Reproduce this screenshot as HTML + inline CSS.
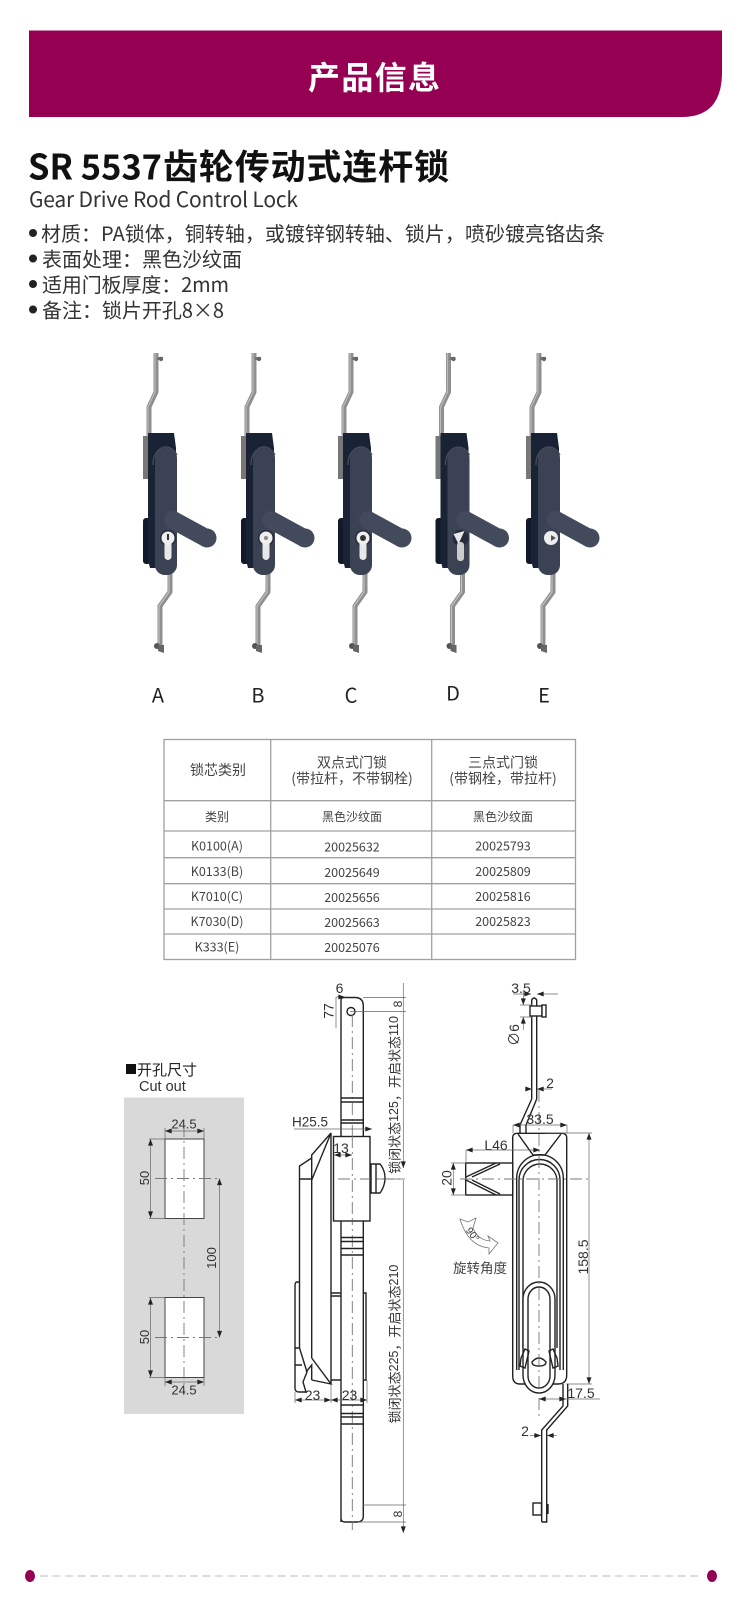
<!DOCTYPE html>
<html><head><meta charset="utf-8">
<style>
html,body{margin:0;padding:0;background:#fff;width:750px;height:1600px;overflow:hidden}
svg{display:block}
text{font-family:"Liberation Sans","Noto Sans CJK SC",sans-serif;dominant-baseline:central}
.n{font-family:"Noto Sans CJK SC","Liberation Sans",sans-serif}
.t{font-family:"Noto Sans CJK SC","Liberation Sans",sans-serif;font-size:12.5px;fill:#444;text-anchor:middle}
.h{font-size:14px}
.s{font-size:12px}
.d{font-size:14px;fill:#333;text-anchor:middle}
.l{fill:none;stroke:#222;stroke-width:1.4}
.th{fill:none;stroke:#666;stroke-width:.7}
.c{fill:none;stroke:#777;stroke-width:.9;stroke-dasharray:12 4 2 4}
.lb{font-family:"Liberation Sans",sans-serif;font-size:12.5px}
</style></head><body>
<svg width="750" height="1600" viewBox="0 0 750 1600" xmlns="http://www.w3.org/2000/svg">
<defs>
<marker id="a" viewBox="0 0 8 6" refX="8" refY="3" markerWidth="7" markerHeight="5" orient="auto-start-reverse" markerUnits="userSpaceOnUse"><path d="M0 0L8 3L0 6z" fill="#222"/></marker>
<g id="lock">
<path d="M156 353V392L149 407V436" fill="none" stroke="#8f8f8f" stroke-width="5"/>
<path d="M155 353V392L148 407V436" fill="none" stroke="#bbb" stroke-width="1.200"/>
<rect x="157" y="357" width="6" height="3" fill="#777"/>
<circle cx="161" cy="359" r="2.200" fill="#666"/>
<path d="M170 570V592L160 606V648" fill="none" stroke="#8f8f8f" stroke-width="5"/>
<path d="M169 570V592L159 606V648" fill="none" stroke="#c0c0c0" stroke-width="1.200"/>
<circle cx="157" cy="646" r="3" fill="#555"/>
<path d="M158 645L164 645L164 653L158 651z" fill="#666"/>
<rect x="143" y="436" width="6" height="43" fill="#777"/>
<rect x="143" y="518" width="8" height="46" rx="3" fill="#121929"/>
<path d="M148 433H174L176 448V565L170 568H150L148 560z" fill="#1a2335"/>
<path d="M153 465A13 17 0 0 1 177 455" fill="none" stroke="#49515f" stroke-width="1.200"/>
<rect x="155" y="448" width="22" height="127" rx="10" fill="#3a4253"/>
<path d="M173 520L206 538" stroke="#424a5b" stroke-width="18" stroke-linecap="round"/>
<circle cx="207" cy="538" r="9.500" fill="#424a5b"/>
</g>
<g id="key">
<circle cx="168" cy="538" r="8" fill="#232b3c"/>
<rect x="164.500" y="540" width="7" height="20" rx="3.500" fill="#e8e8e8"/>
<circle cx="168" cy="538" r="6.500" fill="#eee"/>
</g>
</defs>

<path d="M29 30.500H722V72Q722 117 682 117H29z" fill="#960052"/>
<text class="n" x="374" y="76" font-size="32" font-weight="700" fill="#fff" text-anchor="middle" textLength="132">产品信息</text>
<text class="n" x="28" y="165" font-size="35" font-weight="700" fill="#111" textLength="134" lengthAdjust="spacingAndGlyphs">SR 5537</text>
<text class="n" x="163" y="165" font-size="35" font-weight="700" fill="#111" textLength="286">齿轮传动式连杆锁</text>
<text class="n" x="29" y="199" font-size="21" fill="#333" textLength="269">Gear Drive Rod Control Lock</text>

<g fill="#222">
<circle cx="33" cy="233" r="4"/><circle cx="33" cy="258.500" r="4"/><circle cx="33" cy="284" r="4"/><circle cx="33" cy="309.500" r="4"/>
</g>
<g class="n" font-size="20" fill="#333">
<text class="n" x="41" y="232.500" textLength="564">材质：PA锁体，铜转轴，或镀锌钢转轴、锁片，喷砂镀亮铬齿条</text>
<text class="n" x="42" y="258" textLength="200">表面处理：黑色沙纹面</text>
<text class="n" x="42" y="283.500" textLength="187">适用门板厚度：2mm</text>
<text class="n" x="42" y="309" textLength="182">备注：锁片开孔8×8</text>
</g>

<use href="#lock"/><use href="#key"/><rect x="167" y="534" width="2" height="6" fill="#333"/>
<g transform="translate(98 0)"><use href="#lock"/><use href="#key"/><circle cx="168" cy="538" r="2" fill="#888"/></g>
<g transform="translate(195 0)"><use href="#lock"/><use href="#key"/><circle cx="168" cy="538" r="3" fill="#333"/></g>
<g transform="translate(292.500 0)"><use href="#lock"/><circle cx="168" cy="538" r="8" fill="#232b3c"/><rect x="164.500" y="542" width="7" height="19" rx="3" fill="#ccc"/><path d="M161 534L172 531L166 544z" fill="#e8e8e8"/></g>
<g transform="translate(383 0)"><use href="#lock"/><circle cx="168" cy="538" r="7" fill="#eee"/><path d="M168 535L173 538L168 541z" fill="#555"/></g>

<g class="n" font-size="20" fill="#222" text-anchor="middle">
<text class="n" x="158" y="694">A</text><text class="n" x="258" y="694">B</text><text class="n" x="351" y="694">C</text><text class="n" x="453" y="692">D</text><text class="n" x="544" y="694">E</text>
</g>

<g stroke="#a0a0a0" stroke-width="1.3" fill="none">
<rect x="164" y="739.500" width="411.500" height="220"/>
<path d="M270.700 739.500V959.500M431.700 739.500V959.500M164 800.700H575.500M164 831H575.500M164 857.700H575.500M164 883.700H575.500M164 909H575.500M164 934H575.500"/>
</g>
<text class="t h" x="218" y="770">锁芯类别</text>
<text class="t h" x="352" y="762.500">双点式门锁</text><text class="t h" x="352" y="778.500">(带拉杆，不带钢栓)</text>
<text class="t h" x="503" y="762.500">三点式门锁</text><text class="t h" x="503" y="778.500">(带钢栓，带拉杆)</text>
<text class="t s" x="217" y="816.500">类别</text><text class="t s" x="352" y="816.500">黑色沙纹面</text><text class="t s" x="503" y="816.500">黑色沙纹面</text>
<g>
<text class="t" x="217" y="845">K0100(A)</text><text class="t" x="352" y="846">20025632</text><text class="t" x="503" y="845">20025793</text>
<text class="t" x="217" y="870.500">K0133(B)</text><text class="t" x="352" y="871.500">20025649</text><text class="t" x="503" y="870.500">20025809</text>
<text class="t" x="217" y="895.500">K7010(C)</text><text class="t" x="352" y="896.500">20025656</text><text class="t" x="503" y="895.500">20025816</text>
<text class="t" x="217" y="920.500">K7030(D)</text><text class="t" x="352" y="921.500">20025663</text><text class="t" x="503" y="920.500">20025823</text>
<text class="t" x="217" y="946">K333(E)</text><text class="t" x="352" y="946.500">20025076</text>
</g>

<!-- cut out -->
<rect x="126" y="1064" width="10" height="10" fill="#111"/>
<text class="n" x="137" y="1069.500" font-size="15" fill="#222">开孔尺寸</text>
<text x="139" y="1087" font-size="14.500" fill="#333">Cut out</text>
<rect x="124" y="1097.500" width="120" height="316.500" fill="#d9d9d9"/>
<rect x="165" y="1139" width="39" height="79.500" fill="#fff" stroke="#444" stroke-width="1"/>
<rect x="165" y="1297.500" width="39" height="80" fill="#fff" stroke="#444" stroke-width="1"/>
<path class="c" d="M184 1125V1395M155 1178.500H218M155 1337.500H218"/>
<path class="th" d="M149 1139H165M149 1218.500H165M149 1297.500H165M149 1377.500H165M165 1139V1128M204 1139V1128M165 1378V1386M204 1378V1386"/>
<path class="th" d="M150.500 1139V1218" marker-start="url(#a)" marker-end="url(#a)"/>
<path class="th" d="M150.500 1298V1377" marker-start="url(#a)" marker-end="url(#a)"/>
<path class="th" d="M219.500 1178.500V1337.500" marker-start="url(#a)" marker-end="url(#a)"/>
<path class="th" d="M165 1131H204" marker-start="url(#a)" marker-end="url(#a)"/>
<path class="th" d="M165 1382H204" marker-start="url(#a)" marker-end="url(#a)"/>
<text class="d" x="184" y="1124" style="font-size:13px">24.5</text>
<text class="d" x="184" y="1390" style="font-size:13px">24.5</text>
<text class="d" style="font-size:13px" transform="translate(144.500 1178) rotate(-90)">50</text>
<text class="d" style="font-size:13px" transform="translate(144.500 1337) rotate(-90)">50</text>
<text class="d" style="font-size:13px" transform="translate(211.500 1258) rotate(-90)">100</text>

<!-- middle drawing -->
<path class="l" d="M341 1522V1000Q341 997.500 344 997.500H355Q363.300 997.500 363.300 1006V1516Q363.300 1522 357 1522H345Q341 1522 341 1518z"/>
<circle class="l" cx="351" cy="1011.500" r="4"/>
<path class="c" d="M352.300 1015V1530"/>
<g class="l"><path d="M341 1098H363.300M341 1102H363.300M341 1120H363.300M341 1123H363.300M341 1237.500H363.300M341 1241.500H363.300M341 1248.500H363.300M341 1255H363.300M341 1405H363.300M341 1413.500H363.300M341 1417H363.300M341 1424H363.300"/></g>
<rect x="333.500" y="1136.500" width="36.500" height="84.500" fill="#fff" stroke="#222" stroke-width="1.400"/>
<path class="c" d="M352.300 1136V1221M338 1179H400"/>
<path class="l" d="M371 1164H380Q385 1170 385 1178Q385 1186 380 1193H371zM376 1164V1193M331 1133V1384"/>
<path class="l" d="M299.500 1348V1166L311.700 1158M311.700 1358V1155L331 1133L311.700 1180M299.500 1179H311.700"/>
<path class="l" d="M299 1282H297Q295 1282 295 1286V1388Q295 1392 299 1392H306L303 1382L307 1372L299.500 1348M295 1348H300M295 1365H302"/>
<path class="l" d="M311.700 1358L331 1384L311.700 1380M311.700 1380V1365L306 1372"/>
<path class="l" d="M363.300 1293H366V1380H363.300M331 1293H341M331 1380H341M331 1296H341"/>
<path class="th" d="M295 1392V1403M331 1384V1403M367 1380V1403"/>
<path class="th" d="M295 1400H331" marker-start="url(#a)" marker-end="url(#a)"/>
<path class="th" d="M331 1400H367" marker-start="url(#a)" marker-end="url(#a)"/>
<text class="d" x="312.500" y="1395">23</text><text class="d" x="349.500" y="1395">23</text>
<path class="th" d="M403.300 983V1168" marker-end="url(#a)"/>
<path class="th" d="M403.300 1180V1533" marker-end="url(#a)"/>
<path class="th" d="M363 997.500H406M350 1011.500H406M363 1505H406M358 1522H406M376 1179H405"/>
<text class="d" transform="translate(398 1004) rotate(-90)" style="font-size:12px">8</text>
<text class="d" transform="translate(398 1514) rotate(-90)" style="font-size:12px">8</text>
<text class="n" font-size="13" fill="#333" text-anchor="middle" transform="translate(394 1095) rotate(-90)">锁闭状态<tspan class="lb">125</tspan>，开启状态<tspan class="lb">110</tspan></text>
<text class="n" font-size="13" fill="#333" text-anchor="middle" transform="translate(394 1344) rotate(-90)">锁闭状态<tspan class="lb">225</tspan>，开启状态<tspan class="lb">210</tspan></text>
<text class="d" x="339.500" y="988">6</text>
<text class="d" transform="translate(328.500 1011) rotate(-90)">77</text>
<path class="th" d="M336 997V1028M336 997H345" marker-end="url(#a)"/>
<text class="d" x="310" y="1122" style="font-size:13.500px">H25.5</text>
<path class="th" d="M294 1129H372" marker-end="url(#a)"/>
<text class="d" x="341" y="1148">13</text>
<path class="th" d="M334 1155H352" marker-start="url(#a)" marker-end="url(#a)"/>

<!-- right drawing -->
<path class="l" d="M531.700 1099V1000Q534 996 536.700 1000V1099L526 1125V1133M531.700 1099L520 1125V1133"/>
<rect x="530" y="1006" width="12" height="10" fill="#fff" stroke="#222" stroke-width="1.400"/>
<rect x="542" y="1005" width="4" height="12" fill="#fff" stroke="#222" stroke-width="1.400"/>
<path class="l" d="M512.700 1138Q512.700 1133.300 517 1133.300H562Q566.700 1133.300 566.700 1138V1375Q566.700 1384 558 1384H520Q512.700 1384 512.700 1376z"/>
<path class="l" d="M518 1134L533 1155H545L561 1134"/>
<path class="l" d="M516.700 1370V1178A23.300 23.300 0 0 1 563.300 1178V1370"/>
<path class="l" d="M519 1370V1180A20.500 20.500 0 0 1 560 1180V1370"/>
<path class="l" d="M523 1348V1181A17 17 0 0 1 557 1181V1348"/>
<path class="l" d="M523 1299A16 17 0 0 1 555 1299V1375A16 18 0 0 1 523 1375z" style="fill:#fff"/>
<path class="l" d="M528 1299A11 12 0 0 1 550 1299V1376A11 12 0 0 1 528 1376z"/>
<path class="l" d="M521 1358L525 1349L529 1351L525 1368L520 1366zM557 1358L553 1349L549 1351L553 1368L558 1366zM532 1362Q539 1354 546 1362Q546 1366 539 1366Q532 1366 532 1362z"/>
<path class="c" d="M539 1090V1420"/>
<path class="l" d="M563 1384V1406L541.700 1430V1522M567.700 1384V1406L546.700 1430V1522H541.700"/>
<rect x="533" y="1503" width="8.500" height="12" fill="#fff" stroke="#222" stroke-width="1.400"/>
<rect x="546.700" y="1504" width="2" height="10" fill="#222"/>
<rect x="465.700" y="1163" width="47" height="32" fill="#fff" stroke="#222" stroke-width="1.400"/>
<path class="l" d="M466 1177L496 1163M472 1177L500 1164M466 1180L496 1195M472 1180L500 1194"/>
<path class="c" d="M460 1179H590"/>
<text class="d" x="521" y="988">3.5</text>
<path class="th" d="M513 994H531" marker-end="url(#a)"/><path class="th" d="M558 994H537" marker-end="url(#a)"/>
<text class="d" transform="translate(514 1035) rotate(-90)">∅6</text>
<path class="th" d="M523.300 1030V1017" marker-end="url(#a)"/><path class="th" d="M523.300 990V1005" marker-end="url(#a)"/><path class="th" d="M520 1005H532M520 1017H532"/>
<text class="d" x="550" y="1083">2</text>
<path class="th" d="M526 1089H532" marker-end="url(#a)"/><path class="th" d="M552 1089H537" marker-end="url(#a)"/>
<text class="d" x="540" y="1119">33.5</text>
<path class="th" d="M513 1125H567" marker-start="url(#a)" marker-end="url(#a)"/><path class="th" d="M513 1125V1133M567 1125V1133"/>
<text class="d" x="496" y="1145">L46</text>
<path class="th" d="M466 1150H540" marker-start="url(#a)" marker-end="url(#a)"/><path class="th" d="M466 1150V1163"/>
<text class="d" transform="translate(446.500 1178) rotate(-90)">20</text>
<path class="th" d="M453.300 1163V1195" marker-start="url(#a)" marker-end="url(#a)"/><path class="th" d="M451 1163H466M451 1195H466"/>
<text class="d" transform="translate(583 1257) rotate(-90)">158.5</text>
<path class="th" d="M589 1133V1384" marker-start="url(#a)" marker-end="url(#a)"/><path class="th" d="M545 1133H592M566 1384H592"/>
<text class="d" x="581" y="1393">17.5</text>
<path class="th" d="M539 1399H566" marker-start="url(#a)" marker-end="url(#a)"/><path class="th" d="M566 1399H600"/>
<text class="d" x="525" y="1431">2</text>
<path class="th" d="M530 1435.500H541" marker-end="url(#a)"/><path class="th" d="M557 1435.500H547" marker-end="url(#a)"/>
<path d="M460 1219L468 1222L476 1218L473 1228Q478 1240 490 1241L488 1236L498 1243L489 1254L489 1248Q468 1246 460 1219z" fill="#fff" stroke="#777" stroke-width=".8"/>
<text class="d" transform="translate(472 1235) rotate(52)" style="font-size:10px">90°</text>
<text class="n" x="480" y="1267" font-size="13.500" fill="#444" text-anchor="middle">旋转角度</text>

<!-- footer -->
<path d="M40 1576H702" stroke="#dedede" stroke-width="2" stroke-dasharray="8 4.500"/>
<ellipse cx="30" cy="1576" rx="5" ry="6" fill="#960052"/>
<ellipse cx="712" cy="1576" rx="5" ry="6" fill="#960052"/>
</svg>
</body></html>
